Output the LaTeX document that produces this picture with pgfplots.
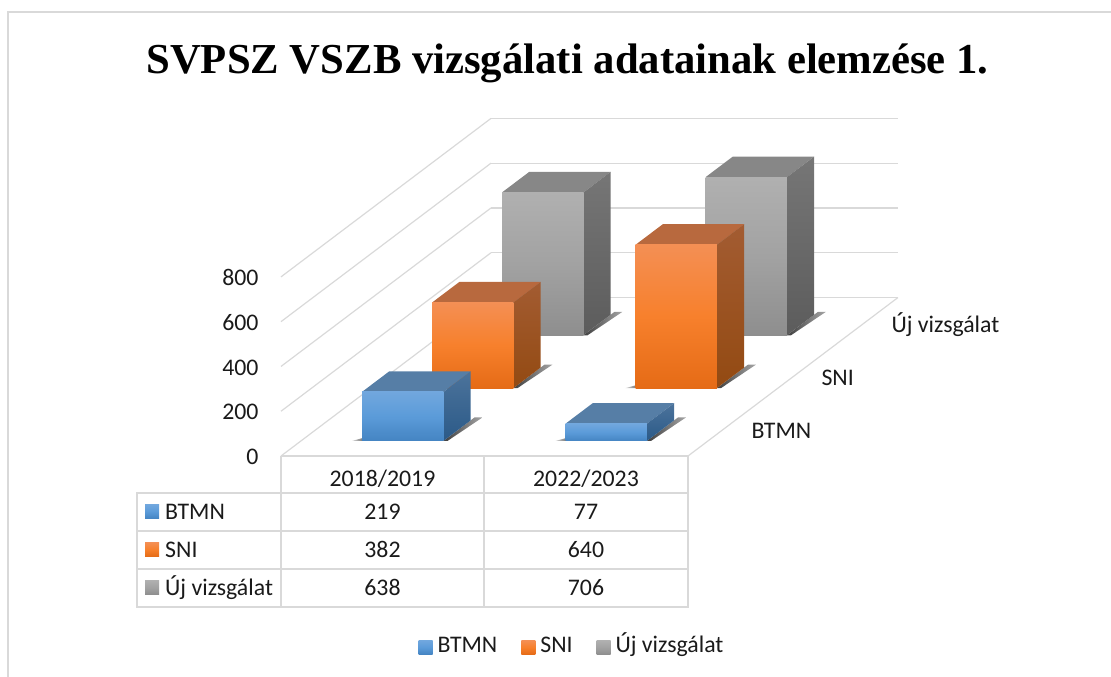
\documentclass[border=0pt]{standalone}
\usepackage{fontspec}
\setmainfont{Carlito}
\newfontfamily\titlefont{Liberation Serif}
\usepackage{pgfplots}
\pgfplotsset{compat=1.18}
\definecolor{gridc}{HTML}{D9D9D9}
\definecolor{txt}{HTML}{1A1A1A}
\definecolor{bt1}{HTML}{71A7DE}
\definecolor{bt2}{HTML}{5B9BD9}
\definecolor{bt3}{HTML}{4484C2}
\definecolor{or1}{HTML}{F48F54}
\definecolor{or2}{HTML}{F7802C}
\definecolor{or3}{HTML}{E56B16}
\definecolor{gy1}{HTML}{B0B0B0}
\definecolor{gy2}{HTML}{A2A2A2}
\definecolor{gy3}{HTML}{8E8E8E}
\definecolor{bs1}{HTML}{4C739B}
\definecolor{bs2}{HTML}{2B5A88}
\definecolor{os1}{HTML}{A35C32}
\definecolor{os2}{HTML}{934A12}
\definecolor{gs1}{HTML}{767676}
\definecolor{gs2}{HTML}{5C5C5C}
\definecolor{btop}{HTML}{567EA6}
\definecolor{otop}{HTML}{B8693E}
\definecolor{gtop}{HTML}{878787}
\tikzset{
  frontBTMN/.style={top color=bt1, bottom color=bt3, middle color=bt2},
  frontSNI/.style={top color=or1, bottom color=or3, middle color=or2},
  frontUJ/.style={top color=gy1, bottom color=gy3, middle color=gy2},
  sideBTMN/.style={top color=bs1, bottom color=bs2},
  sideSNI/.style={top color=os1, bottom color=os2},
  sideUJ/.style={top color=gs1, bottom color=gs2},
  topBTMN/.style={fill=btop},
  topSNI/.style={fill=otop},
  topUJ/.style={fill=gtop},
}

% one box: column, row, value, series
\newcommand{\drawbar}[4]{%
  \pgfmathsetmacro\xa{#1+0.3}\pgfmathsetmacro\xb{#1+0.7}%
  \pgfmathsetmacro\ya{#2+0.285}\pgfmathsetmacro\yb{#2+0.675}%
  \pgfmathsetmacro\xc{\xb+0.02}\pgfmathsetmacro\xd{\xb+0.039}%
  \pgfmathsetmacro\yc{\yb+0.055}\pgfmathsetmacro\xe{\xa-0.05}\pgfmathsetmacro\ye{\ya+0.08}%
  \addplot3[forget plot,draw=none,left color=black!75,right color=black!35] coordinates {(\xb,\ya,0) (\xc,\ya,0) (\xd,\yc,0) (\xb,\yc,0)};
  \addplot3[forget plot,draw=none,left color=black!15,right color=black!70] coordinates {(\xe,\ya,0) (\xa,\ya,0) (\xa,\ye,0)};
  \addplot3[forget plot,draw=none,top#4] coordinates {(\xa,\ya,#3) (\xb,\ya,#3) (\xb,\yb,#3) (\xa,\yb,#3)};
  \addplot3[forget plot,draw=none,side#4] coordinates {(\xb,\ya,0) (\xb,\yb,0) (\xb,\yb,#3) (\xb,\ya,#3)};
  \addplot3[forget plot,draw=none,front#4] coordinates {(\xa,\ya,0) (\xb,\ya,0) (\xb,\ya,#3) (\xa,\ya,#3)};
}
\newcommand{\tfont}{\fontsize{23.8}{27}\selectfont}

\begin{document}
\begin{tikzpicture}[x=1pt,y=-1pt]
\useasboundingbox (0,0) rectangle (1111,677);
\draw[gridc,line width=1.2pt] (8,677) -- (8,12) -- (1111,12);
\node[anchor=base,font=\titlefont\bfseries\fontsize{42.7}{50}\selectfont,inner sep=0pt] at (567.5,74) {SVPSZ VSZB vizsgálati adatainak elemzése 1.};

\begin{axis}[
  at={(281pt,-456pt)}, anchor=origin,
  x={(203.5pt,0pt)}, y={(70pt,52.83pt)}, z={(0pt,0.2239pt)},
  xmin=0, xmax=2, ymin=0, ymax=3, zmin=0, zmax=800,
  clip=false,
  axis line style={draw=none},
  xtick=\empty,
  ytick={0.5,1.5,2.5},
  yticklabels={BTMN,SNI,Új vizsgálat},
  ztick={0,200,400,600,800},
  major tick length=0pt,
  zmajorgrids=true,
  grid style={gridc,line width=1.2pt},
  tick label style={font=\tfont,text=txt},
  /pgf/number format/assume math mode=true,
  z tick label style={anchor=east,xshift=-19pt,yshift=-1pt},
  y tick label style={anchor=west,xshift=25pt,yshift=-1pt},
  yticklabel pos=left,
  legend columns=3,
  legend style={at={(0.4717,-0.567)},anchor=center,draw=none,fill=none,font=\tfont,text=txt,
    nodes={text height=16pt,text depth=5pt},
    /tikz/every odd column/.append style={column sep=3pt},
    /tikz/every even column/.append style={column sep=22pt}},
  legend image code/.code={\path[#1,draw=none] (0pt,-7pt) rectangle (14pt,7pt);},
]
\addplot3[forget plot,gridc,line width=1.2pt] coordinates {(2,0,0) (2,3,0)};
\drawbar{0}{2}{638}{UJ}
\drawbar{1}{2}{706}{UJ}
\drawbar{0}{1}{382}{SNI}
\drawbar{1}{1}{640}{SNI}
\drawbar{0}{0}{219}{BTMN}
\drawbar{1}{0}{77}{BTMN}
\addlegendimage{frontBTMN}\addlegendentry{BTMN}
\addlegendimage{frontSNI}\addlegendentry{SNI}
\addlegendimage{frontUJ}\addlegendentry{Új vizsgálat}
\end{axis}

% data table
\draw[gridc,line width=1.5pt] (281,456) -- (688,456) -- (688,607) -- (137,607) -- (137,493) -- (281,493) -- (281,456);
\draw[gridc,line width=1.5pt] (484,456) -- (484,607) (281,493) -- (281,607);
\draw[gridc,line width=1.5pt] (137,493) -- (688,493) (137,531) -- (688,531) (137,569) -- (688,569);
\foreach \tx/\ty/\lab in {382.5/486/2018\slash 2019,586/486/2022\slash 2023,
  382.5/519.5/219,586/519.5/77,382.5/557.5/382,586/557.5/640,382.5/595.5/638,586/595.5/706}
  \node[font=\tfont,text=txt,inner sep=0pt,anchor=base] at (\tx,\ty) {\lab};
\foreach \ty/\lab/\sty in {519.5/BTMN/frontBTMN,557.5/SNI/frontSNI,595.5/Új vizsgálat/frontUJ}{
  \path[\sty] (145,\ty-15) rectangle (159,\ty-1);
  \node[font=\tfont,text=txt,inner sep=0pt,anchor=base west] at (165,\ty) {\lab};
}
\end{tikzpicture}
\end{document}
